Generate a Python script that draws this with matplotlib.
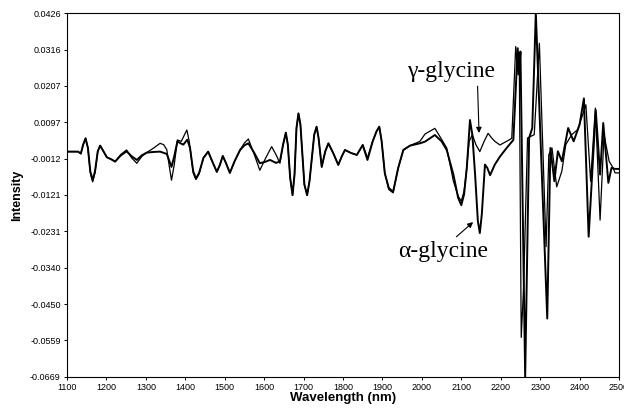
import matplotlib
matplotlib.use('Agg')
from matplotlib import pyplot as plt

# wavelength (nm) / intensity
alpha_wl = [1100, 1128, 1135, 1141, 1147, 1153, 1159, 1165, 1171, 1178, 1184, 1190, 1201,
            1212, 1222, 1236, 1251, 1264, 1277, 1290, 1302, 1320, 1336, 1353, 1365, 1372,
            1380, 1388, 1395, 1405, 1412, 1420, 1427, 1435, 1446, 1458, 1470, 1480, 1488,
            1495, 1503, 1513, 1525, 1539, 1550, 1560, 1575, 1589, 1602, 1615, 1630, 1640,
            1648, 1655, 1660, 1666, 1672, 1677, 1682, 1687, 1692, 1702, 1709, 1715, 1727,
            1733, 1738, 1746, 1755, 1763, 1775, 1788, 1797, 1805, 1820, 1835, 1850, 1862,
            1875, 1885, 1892, 1898, 1906, 1916, 1927, 1940, 1953, 1970, 1995, 2008, 2033,
            2050, 2063, 2080, 2092, 2100, 2107, 2114, 2122, 2128, 2135, 2142, 2147, 2152,
            2160, 2166, 2173, 2185, 2198, 2215, 2232, 2243, 2247, 2250, 2262, 2272, 2280,
            2289, 2318, 2326, 2336, 2345, 2355, 2371, 2385, 2400, 2411, 2423, 2441, 2452,
            2460, 2473, 2481, 2490, 2500]
alpha_val = [0.0009, 0.0009, 0.0003, 0.0030, 0.0049, 0.0020, -0.0050, -0.0077, -0.0050,
             0.0010, 0.0027, 0.0015, -0.0008, -0.0014, -0.0021, -0.0003, 0.0010, -0.0005,
             -0.0016, -0.0002, 0.0006, 0.0008, 0.0009, 0.0002, -0.0037, -0.0005, 0.0040,
             0.0034, 0.0030, 0.0045, 0.0020, -0.0050, -0.0072, -0.0055, -0.0010, 0.0009,
             -0.0025, -0.0052, -0.0030, -0.0004, -0.0025, -0.0055, -0.0020, 0.0014, 0.0028,
             0.0034, 0.0005, -0.0026, -0.0022, -0.0016, -0.0025, -0.0020, 0.0030, 0.0066,
             0.0030, -0.0070, -0.0122, -0.0060, 0.0080, 0.0124, 0.0090, -0.0090, -0.0122,
             -0.0080, 0.0060, 0.0084, 0.0050, -0.0037, 0.0010, 0.0034, 0.0005, -0.0031,
             -0.0005, 0.0014, 0.0005, -0.0001, 0.0029, -0.0016, 0.0039, 0.0070, 0.0084,
             0.0040, -0.0056, -0.0100, -0.0112, -0.0040, 0.0014, 0.0027, 0.0034, 0.0039,
             0.0059, 0.0040, 0.0014, -0.0060, -0.0130, -0.0152, -0.0120, -0.0040, 0.0104,
             0.0060, -0.0060, -0.0200, -0.0236, -0.0180, -0.0030, -0.0040, -0.0062, -0.0030,
             -0.0006, 0.0020, 0.0044, 0.0320, 0.0250, 0.0310, -0.0669, 0.0050, 0.0080,
             0.0426, -0.0493, 0.0020, -0.0080, 0.0010, -0.0020, 0.0080, 0.0040, 0.0090,
             0.0169, -0.0247, 0.0134, -0.0060, 0.0095, -0.0085, -0.0040, -0.0043, -0.0043]

gamma_wl = [1100, 1128, 1135, 1141, 1147, 1153, 1159, 1165, 1171, 1178, 1184, 1190, 1201,
            1212, 1222, 1236, 1251, 1264, 1277, 1290, 1302, 1320, 1336, 1345, 1353, 1360,
            1365, 1372, 1380, 1390, 1398, 1404, 1410, 1420, 1427, 1435, 1446, 1458, 1470,
            1480, 1488, 1495, 1503, 1513, 1525, 1539, 1550, 1560, 1575, 1589, 1604, 1619,
            1630, 1640, 1648, 1655, 1660, 1666, 1672, 1677, 1682, 1687, 1692, 1702, 1709,
            1715, 1727, 1733, 1738, 1746, 1755, 1763, 1775, 1788, 1797, 1805, 1820, 1835,
            1850, 1862, 1875, 1885, 1892, 1898, 1906, 1916, 1927, 1940, 1953, 1970, 1995,
            2008, 2020, 2033, 2048, 2063, 2080, 2092, 2100, 2107, 2112, 2120, 2128, 2137,
            2147, 2158, 2168, 2177, 2185, 2198, 2215, 2228, 2238, 2244, 2247, 2252, 2258,
            2268, 2285, 2298, 2315, 2322, 2330, 2342, 2355, 2365, 2380, 2395, 2405, 2416,
            2428, 2440, 2452, 2462, 2475, 2485, 2490, 2500]
gamma_val = [0.0009, 0.0009, 0.0003, 0.0030, 0.0049, 0.0020, -0.0055, -0.0082, -0.0055,
             0.0010, 0.0027, 0.0015, -0.0008, -0.0014, -0.0021, 0.0000, 0.0014, -0.0010,
             -0.0026, -0.0005, 0.0006, 0.0020, 0.0034, 0.0030, 0.0015, -0.0040, -0.0077,
             -0.0030, 0.0044, 0.0040, 0.0060, 0.0074, 0.0040, -0.0055, -0.0075, -0.0058,
             -0.0010, 0.0009, -0.0025, -0.0052, -0.0030, -0.0004, -0.0025, -0.0055, -0.0020,
             0.0014, 0.0035, 0.0047, 0.0000, -0.0047, -0.0010, 0.0024, 0.0000, -0.0026,
             0.0030, 0.0066, 0.0030, -0.0070, -0.0122, -0.0060, 0.0080, 0.0124, 0.0090,
             -0.0090, -0.0122, -0.0080, 0.0060, 0.0084, 0.0050, -0.0037, 0.0010, 0.0034,
             0.0005, -0.0031, -0.0005, 0.0014, 0.0005, -0.0001, 0.0029, -0.0010, 0.0039,
             0.0070, 0.0084, 0.0040, -0.0056, -0.0105, -0.0115, -0.0040, 0.0014, 0.0027,
             0.0040, 0.0062, 0.0070, 0.0079, 0.0050, 0.0020, -0.0080, -0.0125, -0.0140,
             -0.0110, -0.0060, 0.0040, 0.0060, 0.0030, 0.0009, 0.0040, 0.0064, 0.0050,
             0.0040, 0.0029, 0.0040, 0.0049, 0.0325, 0.0240, 0.0300, -0.0550, -0.0400,
             0.0050, 0.0060, 0.0335, -0.0277, 0.0000, 0.0020, -0.0097, -0.0050, 0.0030,
             0.0060, 0.0075, 0.0110, 0.0150, -0.0080, 0.0140, -0.0197, 0.0060, -0.0020,
             -0.0040, -0.0055, -0.0055]

ytick_labels = ['-0.0669', '-0.0559', '-0.0450', '-0.0340', '-0.0231', '-0.0121',
                '-0.0012', '0.0097', '0.0207', '0.0316', '0.0426']
xticks = list(range(1100, 2501, 100))

plt.rcParams['font.family'] = ['Liberation Sans', 'DejaVu Sans']

fig = plt.figure(figsize=(6.24, 4.13), dpi=100)
ax = fig.add_axes([0.1074, 0.0872, 0.8846, 0.8813])

ax.plot(gamma_wl, gamma_val, color='black', linewidth=0.9)
ax.plot(alpha_wl, alpha_val, color='black', linewidth=1.4)

ax.set_xlim(1100, 2500)
ax.set_ylim(-0.0669, 0.0426)
ax.set_xticks(xticks)
ax.set_xticklabels([str(x) for x in xticks], fontsize=6.5)
ax.set_yticks([float(t) for t in ytick_labels])
ax.set_yticklabels(ytick_labels, fontsize=6.5)
ax.tick_params(length=2.5, width=0.7, pad=2)

ax.set_xlabel('Wavelength (nm)', fontsize=9.5, fontweight='bold', labelpad=0)
ax.set_ylabel('Intensity', fontsize=9, fontweight='bold', labelpad=5)
for s in ax.spines.values():
    s.set_linewidth(0.8)

serif = ['Liberation Serif', 'DejaVu Serif']
ax.annotate('\u03b3-glycine', xy=(2145, 0.0065), xytext=(2074, 0.0250),
            fontsize=17, family=serif, ha='center', va='center',
            arrowprops=dict(arrowstyle='-|>', color='black', lw=0.8,
                            shrinkA=1, shrinkB=0, mutation_scale=8,
                            relpos=(0.8, 0.0)))
ax.annotate('\u03b1-glycine', xy=(2130, -0.0203), xytext=(2054, -0.0290),
            fontsize=17, family=serif, ha='center', va='center',
            arrowprops=dict(arrowstyle='-|>', color='black', lw=0.8,
                            shrinkA=1, shrinkB=0, mutation_scale=8,
                            relpos=(0.6, 1.0)))

plt.savefig('out.png', dpi=100)
